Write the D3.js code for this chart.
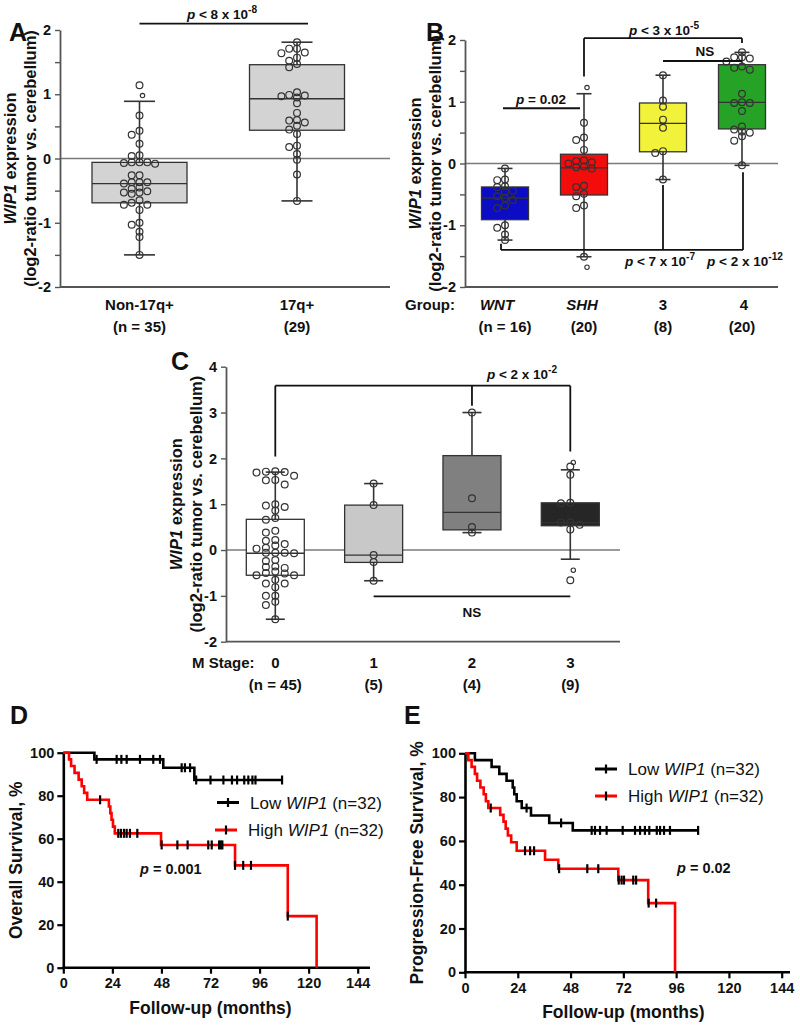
<!DOCTYPE html>
<html>
<head>
<meta charset="utf-8">
<script src="https://cdn.jsdelivr.net/npm/d3@7"></script>
<style>
body { margin: 0; background: #fff; }
svg { display: block; font-family: "Liberation Sans", Arial, sans-serif; }
</style>
</head>
<body>
<svg id="fig" width="800" height="1029"></svg>
<script>
// ---- panel A: 17q status ----
const aCats = ['Non-17q+', '17q+'];
const aCounts = ['(n = 35)', '(29)'];
// min, q1, median, q3, max
const aStats = [[-1.50, -0.69, -0.39, -0.06, 0.89], [-0.66, 0.44, 0.93, 1.46, 1.81]];
const aPoints = [
  [1.14, 0.67, 0.43, 0.37, 0.23, 0.05, 0.04, -0.06, -0.06, -0.07, -0.06, -0.08, -0.26, -0.26, -0.37, -0.39, -0.37, -0.37,
   -0.45, -0.47, -0.53, -0.51, -0.53, -0.55, -0.65, -0.69, -0.72, -0.72, -0.80, -1.00, -1.03, -1.14, -1.22, -1.50],
  [1.81, 1.71, 1.71, 1.65, 1.64, 1.57, 1.52, 1.47, 1.42, 1.03, 0.99, 0.98, 0.97, 0.95, 0.86, 0.71, 0.60, 0.59, 0.56,
   0.51, 0.45, 0.38, 0.20, 0.18, 0.07, -0.02, -0.25, -0.66]
];
const aOutliers = [[0.98], []];

// ---- panel B: subgroups ----
const bCats = ['WNT', 'SHH', '3', '4'];
const bItalic = [true, true, false, false];
const bCounts = ['(n = 16)', '(20)', '(8)', '(20)'];
const bFills = ['#0c0cc4', '#f40c0c', '#f2f23a', '#26a326'];
const bStats = [
  [-1.24, -0.91, -0.56, -0.38, -0.08],
  [-1.51, -0.51, -0.07, 0.15, 1.13],
  [-0.26, 0.19, 0.65, 0.98, 1.43],
  [-0.03, 0.56, 0.99, 1.60, 1.80]
];
const bPoints = [
  [-0.08, -0.26, -0.27, -0.37, -0.38, -0.44, -0.46, -0.53, -0.56, -0.59, -0.68, -0.72, -1.00, -1.04, -1.15, -1.24],
  [0.66, 0.42, 0.38, 0.22, 0.05, 0.04, 0.02, 0.00, -0.05, -0.06, -0.08, -0.36, -0.38, -0.49, -0.53, -0.68, -0.72, -1.51],
  [1.43, 1.02, 0.92, 0.71, 0.58, 0.20, 0.17, -0.26],
  [1.80, 1.72, 1.72, 1.70, 1.65, 1.57, 1.52, 1.55, 1.13, 0.98, 0.99, 0.98, 0.85, 0.60, 0.55, 0.52, 0.50, 0.44, 0.37, -0.03]
];
const bOutliers = [[], [1.23, -1.68], [], []];

// ---- panel C: M stage ----
const cCats = ['0', '1', '2', '3'];
const cCounts = ['(n = 45)', '(5)', '(4)', '(9)'];
const cFills = ['#ffffff', '#c8c8c8', '#808080', '#262626'];
const cStats = [
  [-1.51, -0.55, -0.07, 0.67, 1.70],
  [-0.67, -0.27, -0.11, 0.98, 1.45],
  [0.38, 0.44, 0.82, 2.06, 3.00],
  [-0.20, 0.53, 0.60, 1.03, 1.75]
];
const cPoints = [
  [1.72, 1.70, 1.69, 1.71, 1.62, 1.53, 1.52, 1.43, 1.00, 0.97, 0.94, 0.86, 0.70, 0.66, 0.42, 0.38, 0.22, 0.20, 0.13,
   0.10, 0.05, 0.03, -0.06, -0.06, -0.06, -0.07, -0.24, -0.22, -0.36, -0.37, -0.39, -0.47, -0.50, -0.51, -0.55, -0.55,
   -0.65, -0.73, -0.73, -0.81, -1.00, -1.00, -1.13, -1.20, -1.51],
  [1.45, 0.98, -0.11, -0.26, -0.67],
  [3.00, 1.13, 0.50, 0.38],
  [1.82, 1.64, 1.02, 1.03, 0.60, 0.60, 0.55, 0.45, -0.66]
];
const cOutliers = [[], [], [], [1.91, -0.44]];

// ---- panel D: overall survival (months, %) ----
const dLowSteps = [[0, 100], [15.2, 96.9], [48.9, 93.0], [64.1, 87.3]];
const dLowEnd = 107;
const dLowCens = [16.3, 26.1, 28.4, 31, 37.5, 44, 47.3, 57.9, 59.5, 62, 65, 72, 78.3, 82.5, 85, 88.5, 90.5, 92.5, 94, 107];
const dHighSteps = [[0, 100], [2.8, 96.9], [3.8, 93.8], [5.5, 90.6], [7.5, 87.5], [9, 84.4], [10.2, 81.3], [11.7, 78.1],
  [22.3, 75.0], [23, 71.9], [23.6, 68.8], [24.3, 65.6], [25.2, 62.5], [47.8, 57.1], [84, 47.6], [109.8, 24], [123.9, 0]];
const dHighCens = [18, 26.9, 28.2, 29.7, 31, 32.6, 36.2, 48.1, 55.8, 60.8, 70.9, 72.6, 76.2, 77, 77.8, 84, 88, 91.8, 109.8];

// ---- panel E: progression-free survival ----
const eLowSteps = [[0, 100], [4.5, 96.9], [12.1, 93.8], [15.6, 90.6], [18.9, 87.5], [21.7, 84.4], [22.4, 81.3],
  [23.5, 78.1], [25.8, 75.0], [30, 71.6], [38.3, 68.2], [49, 64.8]];
const eLowEnd = 106;
const eLowCens = [28, 43.7, 57.6, 59.1, 61.4, 64.4, 71.7, 77.3, 79.6, 81.8, 83.8, 87.2, 88.7, 90.5, 93.2, 106];
const eHighSteps = [[0, 100], [1.5, 96.9], [3, 93.8], [4.5, 90.6], [5.5, 87.5], [7, 84.4], [8.5, 81.3], [9.5, 78.1],
  [10.6, 75.0], [16, 71.9], [17.5, 68.8], [18.5, 65.6], [19.5, 62.5], [21, 59.4], [23.5, 55.5], [36.4, 51.4],
  [42.4, 47.3], [69.7, 42.1], [83.3, 31.6], [95.5, 0]];
const eHighCens = [11.7, 27.3, 29.6, 31.4, 42.8, 55.6, 60.6, 69.9, 71.2, 72.3, 76.5, 77.8, 83.5, 86.9];

const kmTicksX = [0, 24, 48, 72, 96, 120, 144];
const kmTicksY = [0, 20, 40, 60, 80, 100];

const svg = d3.select('#fig');
const INK = '#333';

// text with italic / superscript pieces
function txt(g, x, y, parts, o) {
  o = o || {};
  const size = o.size || 14;
  const t = g.append('text').attr('x', x).attr('y', y)
    .attr('font-size', size).attr('font-weight', o.weight || 'bold')
    .attr('text-anchor', o.anchor || 'start').attr('fill', '#111');
  if (o.rotate) t.attr('transform', `rotate(-90,${x},${y})`);
  (typeof parts === 'string' ? [{t: parts}] : parts).forEach(p => {
    const s = t.append('tspan').text(p.t);
    if (p.i) s.attr('font-style', 'italic');
    if (p.sup) s.attr('dy', -size * 0.45).attr('font-size', size * 0.75);
  });
  return t;
}

function seg(g, x1, y1, x2, y2, col, w) {
  return g.append('line').attr('x1', x1).attr('y1', y1).attr('x2', x2).attr('y2', y2)
    .attr('stroke', col || INK).attr('stroke-width', w || 1.5);
}

// simple swarm: put each point in the first free column
function swarm(vals, y, step, minDist) {
  const placed = [];
  const out = new Array(vals.length).fill(0);
  const order = vals.map((v, i) => i).sort((a, b) => vals[b] - vals[a]);
  order.forEach(i => {
    const py = y(vals[i]);
    for (const k of [0, -1, 1, -2, 2]) {
      const px = k * step;
      if (placed.every(p => Math.hypot(p[0] - px, p[1] - py) >= minDist)) {
        placed.push([px, py]); out[i] = px; return;
      }
    }
  });
  return out;
}

function boxPanel(o) {
  const g = svg.append('g');
  const y = d3.scaleLinear().domain(o.yDom).range(o.yRange);
  const x = d3.scalePoint().domain(o.cats).range(o.xRange);

  seg(g, o.axisX, y(0), o.axisEnd, y(0), '#7a7a7a', 1.4);

  const ay = g.append('g').attr('transform', `translate(${o.axisX},0)`)
    .call(d3.axisLeft(y).tickValues(o.ticks).tickSize(5).tickSizeOuter(0).tickPadding(4)
      .tickFormat(d => d % 1 === 0 ? d : ''));
  ay.attr('font-family', null);
  ay.select('.domain').attr('stroke', '#555').attr('stroke-width', 1.8);
  ay.selectAll('.tick line').attr('stroke', '#555').attr('stroke-width', 1.4);
  ay.selectAll('.tick text').attr('font-size', 14.5).attr('font-weight', 'bold').attr('fill', '#111');
  seg(g, o.axisX, o.yRange[0], o.axisEnd, o.yRange[0], '#555', 1.8);

  o.cats.forEach((c, i) => {
    const s = o.stats[i], cx = x(c), bw = o.boxW, cw = o.capW;
    seg(g, cx, y(s[0]), cx, y(s[4]), INK, 1.6);
    g.append('rect').attr('x', cx - bw / 2).attr('y', y(s[3]))
      .attr('width', bw).attr('height', y(s[1]) - y(s[3]))
      .attr('fill', o.fills[i]).attr('stroke', INK).attr('stroke-width', 1.3);
    seg(g, cx - bw / 2, y(s[2]), cx + bw / 2, y(s[2]), INK, 1.3);
    seg(g, cx - cw / 2, y(s[0]), cx + cw / 2, y(s[0]), INK, 1.6);
    seg(g, cx - cw / 2, y(s[4]), cx + cw / 2, y(s[4]), INK, 1.6);

    const off = swarm(o.points[i], y, o.step, 4.6);
    g.selectAll(null).data(o.points[i]).join('circle')
      .attr('cx', (d, j) => cx + off[j]).attr('cy', d => y(d)).attr('r', 3.4)
      .attr('fill', 'none').attr('stroke', INK).attr('stroke-width', 1.2);
    g.selectAll(null).data(o.outliers[i]).join('circle')
      .attr('cx', cx + 3).attr('cy', d => y(d)).attr('r', 2.2)
      .attr('fill', 'none').attr('stroke', INK).attr('stroke-width', 1.1);

    const lx = cx + (o.labShift ? o.labShift[i] : 0);
    txt(g, lx, o.labY, [{t: c, i: o.italic ? o.italic[i] : false}], {size: 15, anchor: 'middle'});
    txt(g, cx, o.labY + 22, o.counts[i], {size: 15, anchor: 'middle'});
  });

  txt(g, o.titleX, (o.yRange[0] + o.yRange[1]) / 2, [{t: 'WIP1', i: true}, {t: ' expression'}],
    {size: 16.5, anchor: 'middle', rotate: true});
  txt(g, o.titleX + 20, (o.yRange[0] + o.yRange[1]) / 2, '(log2-ratio tumor vs. cerebellum)',
    {size: 16.5, anchor: 'middle', rotate: true});
  return {g, x, y};
}

// ---------- A ----------
const A = boxPanel({
  cats: aCats, counts: aCounts, stats: aStats, points: aPoints, outliers: aOutliers,
  fills: ['#d3d3d3', '#d3d3d3'], yDom: [-2, 2], yRange: [287, 30], xRange: [139.5, 297],
  axisX: 60, axisEnd: 390, ticks: d3.range(-2, 2.01, 0.5), boxW: 95, capW: 31, step: 7.8,
  labY: 310, titleX: 16
});
seg(A.g, A.x('Non-17q+'), A.y(2.1), A.x('17q+') + 11, A.y(2.1), '#111', 1.8);
txt(A.g, 222, A.y(2.17), [{t: 'p', i: true}, {t: ' < 8 x 10'}, {t: '-8', sup: true}], {size: 13.5, anchor: 'middle'});
txt(A.g, 9, 41, 'A', {size: 25});

// ---------- B ----------
const B = boxPanel({
  cats: bCats, counts: bCounts, stats: bStats, points: bPoints, outliers: bOutliers, italic: bItalic,
  fills: bFills, yDom: [-2, 2], yRange: [287, 40], xRange: [505, 742],
  axisX: 465, axisEnd: 778, ticks: d3.range(-2, 2.01, 0.5), boxW: 47, capW: 15, step: 7.8,
  labY: 310, titleX: 421, labShift: [-8, -2, 0, 2]
});
txt(B.g, 405, 310, 'Group:', {size: 15});
{
  const g = B.g, x = B.x, y = B.y;
  // SHH vs 4
  seg(g, x('SHH'), y(2.03), x('4'), y(2.03), '#111', 1.8);
  seg(g, x('SHH'), y(2.03), x('SHH'), y(1.41), '#111', 1.8);
  seg(g, x('4'), y(2.03), x('4'), y(1.95), '#111', 1.8);
  txt(g, 664, y(2.08), [{t: 'p', i: true}, {t: ' < 3 x 10'}, {t: '-5', sup: true}], {size: 13.5, anchor: 'middle'});
  // 3 vs 4
  seg(g, x('3'), y(1.66), x('4'), y(1.66), '#111', 1.8);
  txt(g, 705, y(1.74), 'NS', {size: 13.5, anchor: 'middle'});
  // WNT vs SHH
  seg(g, x('WNT') - 2, y(0.895), x('SHH') - 4, y(0.895), '#111', 1.8);
  txt(g, 541, y(0.96), [{t: 'p', i: true}, {t: ' = 0.02'}], {size: 13.5, anchor: 'middle'});
  // WNT vs 3 and 4
  seg(g, x('WNT') - 4, y(-1.40), x('4') + 1, y(-1.40), '#111', 1.8);
  seg(g, x('WNT') - 4, y(-1.40), x('WNT') - 4, y(-1.30), '#111', 1.8);
  seg(g, x('3'), y(-1.40), x('3'), y(-0.35), '#111', 1.8);
  seg(g, x('4') + 1, y(-1.40), x('4') + 1, y(-0.14), '#111', 1.8);
  txt(g, 660, 266, [{t: 'p', i: true}, {t: ' < 7 x 10'}, {t: '-7', sup: true}], {size: 13.5, anchor: 'middle'});
  txt(g, 745, 266, [{t: 'p', i: true}, {t: ' < 2 x 10'}, {t: '-12', sup: true}], {size: 13.5, anchor: 'middle'});
}
txt(B.g, 426, 41, 'B', {size: 25});

// ---------- C ----------
const C = boxPanel({
  cats: cCats, counts: cCounts, stats: cStats, points: cPoints, outliers: cOutliers,
  fills: cFills, yDom: [-2, 4], yRange: [641.7, 366.7], xRange: [275.3, 570.3],
  axisX: 226, axisEnd: 620, ticks: d3.range(-2, 4.01, 1), boxW: 58, capW: 19, step: 9.4,
  labY: 668, titleX: 182
});
txt(C.g, 192, 668, 'M Stage:', {size: 15});
{
  const g = C.g, x = C.x, y = C.y;
  seg(g, x('0'), y(3.585), x('3'), y(3.585), '#111', 1.8);
  seg(g, x('0'), y(3.585), x('0'), y(2.04), '#111', 1.8);
  seg(g, x('2'), y(3.585), x('2'), y(3.15), '#111', 1.8);
  seg(g, x('3'), y(3.585), x('3'), y(2.15), '#111', 1.8);
  txt(g, 522, y(3.74), [{t: 'p', i: true}, {t: ' < 2 x 10'}, {t: '-2', sup: true}], {size: 13.5, anchor: 'middle'});
  seg(g, x('1'), y(-1.01), x('3'), y(-1.01), '#111', 1.8);
  txt(g, x('2'), y(-1.01) + 21, 'NS', {size: 13.5, anchor: 'middle'});
}
txt(C.g, 171, 370, 'C', {size: 25});

// ---------- survival panels ----------
function level(steps, t) {
  let v = steps[0][1];
  steps.forEach(s => { if (s[0] <= t) v = s[1]; });
  return v;
}

function kmPanel(o) {
  const g = svg.append('g');
  const x = d3.scaleLinear().domain([0, 144]).range(o.xRange);
  const y = d3.scaleLinear().domain([0, 100]).range(o.yRange);

  const ax = g.append('g').attr('transform', `translate(0,${o.yRange[0]})`)
    .call(d3.axisBottom(x).tickValues(kmTicksX).tickSize(6).tickPadding(4));
  ax.select('.domain').remove();
  const ay = g.append('g').attr('transform', `translate(${o.xRange[0]},0)`)
    .call(d3.axisLeft(y).tickValues(kmTicksY).tickSize(6).tickSizeOuter(0).tickPadding(3));
  [ax, ay].forEach(a => {
    a.attr('font-family', null);
    a.selectAll('.tick line').attr('stroke', '#000').attr('stroke-width', 2.2);
    a.selectAll('.tick text').attr('font-size', 14.5).attr('font-weight', 'bold').attr('fill', '#111');
  });
  ay.select('.domain').attr('stroke', '#000').attr('stroke-width', 2.6);
  seg(g, o.xRange[0] - 1, o.yRange[0], o.xEnd, o.yRange[0], '#000', 2.6);

  const line = d3.line().x(d => x(d[0])).y(d => y(d[1])).curve(d3.curveStepAfter);
  o.series.forEach(s => {
    const pts = s.end ? s.steps.concat([[s.end, s.steps[s.steps.length - 1][1]]]) : s.steps;
    g.append('path').datum(pts).attr('d', line).attr('fill', 'none')
      .attr('stroke', s.color).attr('stroke-width', 2.6);
  });
  o.series.forEach(s => {
    g.selectAll(null).data(s.cens).join('line')
      .attr('x1', d => x(d)).attr('x2', d => x(d))
      .attr('y1', d => y(level(s.steps, d)) - 4.5).attr('y2', d => y(level(s.steps, d)) + 4.5)
      .attr('stroke', '#000').attr('stroke-width', 2.2);
  });

  // legend
  o.series.forEach((s, i) => {
    const ly = o.legY[i];
    seg(g, o.legX[i], ly, o.legX[i] + 22, ly, s.color, 3);
    seg(g, o.legX[i] + 11, ly - 4.5, o.legX[i] + 11, ly + 4.5, '#000', 2.2);
    txt(g, o.legX[i] + 33, ly + 6, [{t: s.name + ' '}, {t: 'WIP1', i: true}, {t: ' (n=32)'}],
      {size: 17, weight: 'normal'});
  });

  txt(g, o.pPos[0], o.pPos[1], [{t: 'p', i: true}, {t: ' = ' + o.p}], {size: 14.5});
  txt(g, (o.xRange[0] + o.xRange[1]) / 2, o.yRange[0] + 46, 'Follow-up (months)', {size: 17.5, anchor: 'middle'});
  txt(g, o.titleX, (o.yRange[0] + o.yRange[1]) / 2, o.yTitle, {size: 17.5, anchor: 'middle', rotate: true});
  txt(g, o.letter[1], 724, o.letter[0], {size: 25});
}

kmPanel({
  xRange: [63.3, 357.7], xEnd: 370, yRange: [967.7, 752.7],
  series: [
    {name: 'Low', color: '#000', steps: dLowSteps, end: dLowEnd, cens: dLowCens},
    {name: 'High', color: '#ff0000', steps: dHighSteps, cens: dHighCens}
  ],
  legX: [217, 215], legY: [802.5, 830], p: '0.001', pPos: [140, 874],
  yTitle: 'Overall Survival, %', titleX: 22, letter: ['D', 10]
});

kmPanel({
  xRange: [465, 781.7], xEnd: 790, yRange: [972.3, 753.3],
  series: [
    {name: 'Low', color: '#000', steps: eLowSteps, end: eLowEnd, cens: eLowCens},
    {name: 'High', color: '#ff0000', steps: eHighSteps, cens: eHighCens}
  ],
  legX: [595, 595], legY: [769, 796], p: '0.02', pPos: [677, 873],
  yTitle: 'Progression-Free Survival, %', titleX: 423, letter: ['E', 404]
});
</script>
</body>
</html>
